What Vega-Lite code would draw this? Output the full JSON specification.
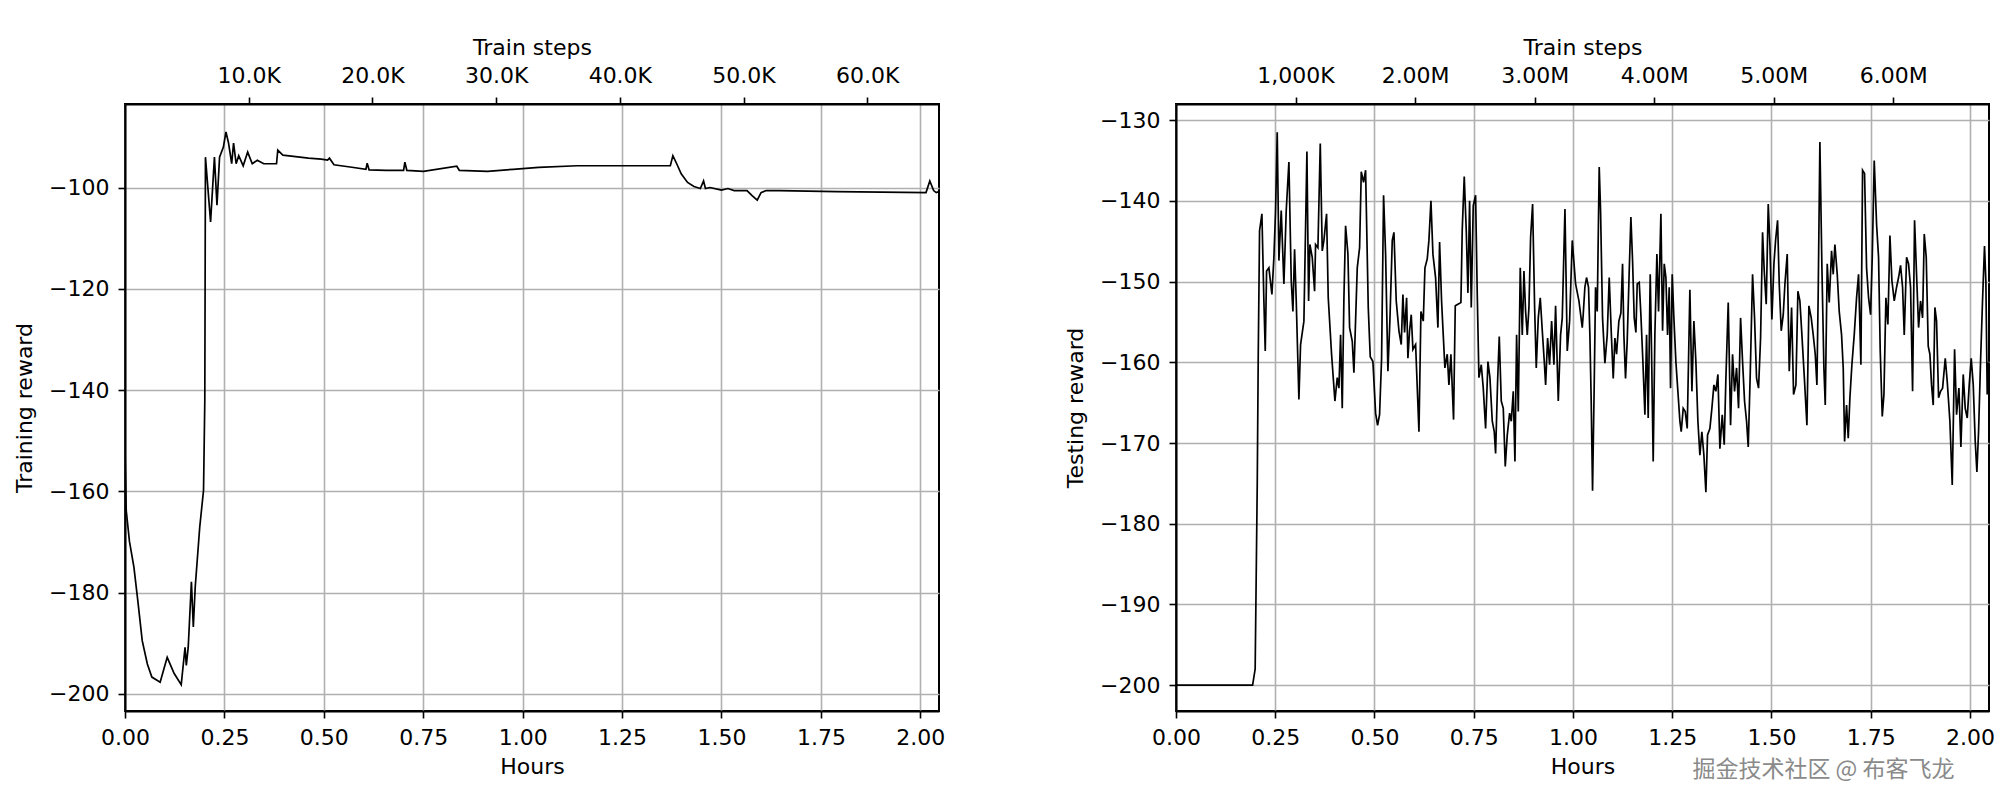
{
  "$schema": "https://vega.github.io/schema/vega-lite/v6.json",
  "autosize": {"type": "pad"},
  "padding": {"left": 12, "top": 35, "right": 5, "bottom": 5},
  "background": "white",
  "bounds": "flush",
  "spacing": 237,
  "title": {"text": "掘金技术社区 @ 布客飞龙", "orient": "bottom", "anchor": "end", "font": "Noto Sans CJK SC", "fontSize": 23, "fontWeight": "normal", "color": "#8a8a8a", "offset": -19, "dx": -41},
  "datasets": {
    "train": [
      {"h": 0, "r": -151.9}, {"h": 0.0031, "r": -163.8}, {"h": 0.0112, "r": -169.9}, {"h": 0.0224, "r": -175}, {"h": 0.0322, "r": -181.6},
      {"h": 0.0433, "r": -189.5}, {"h": 0.0562, "r": -194.1}, {"h": 0.0675, "r": -196.7}, {"h": 0.0884, "r": -197.7}, {"h": 0.1061, "r": -192.8},
      {"h": 0.1237, "r": -196}, {"h": 0.1414, "r": -198.2}, {"h": 0.151, "r": -190.8}, {"h": 0.1542, "r": -194.4}, {"h": 0.159, "r": -190.8},
      {"h": 0.167, "r": -177.9}, {"h": 0.1718, "r": -186.8}, {"h": 0.1766, "r": -178.9}, {"h": 0.1879, "r": -167.1}, {"h": 0.1975, "r": -159.8},
      {"h": 0.2007, "r": -142}, {"h": 0.2023, "r": -94}, {"h": 0.2152, "r": -106.8}, {"h": 0.2249, "r": -94}, {"h": 0.2313, "r": -103.5},
      {"h": 0.2378, "r": -94}, {"h": 0.2474, "r": -92}, {"h": 0.2539, "r": -89}, {"h": 0.2603, "r": -91.2}, {"h": 0.2683, "r": -95.3},
      {"h": 0.273, "r": -91.2}, {"h": 0.2795, "r": -95.3}, {"h": 0.286, "r": -93.7}, {"h": 0.2972, "r": -95.7}, {"h": 0.3085, "r": -93},
      {"h": 0.32, "r": -95.3}, {"h": 0.3327, "r": -94.6}, {"h": 0.3488, "r": -95.3}, {"h": 0.381, "r": -95.3}, {"h": 0.3842, "r": -92.6},
      {"h": 0.397, "r": -93.6}, {"h": 0.4291, "r": -93.9}, {"h": 0.4612, "r": -94.2}, {"h": 0.4934, "r": -94.4}, {"h": 0.5094, "r": -94.6},
      {"h": 0.5142, "r": -94.2}, {"h": 0.5255, "r": -95.5}, {"h": 0.5705, "r": -96}, {"h": 0.6058, "r": -96.4}, {"h": 0.609, "r": -95.2},
      {"h": 0.6138, "r": -96.5}, {"h": 0.6572, "r": -96.6}, {"h": 0.7006, "r": -96.6}, {"h": 0.7038, "r": -95}, {"h": 0.7087, "r": -96.6},
      {"h": 0.7507, "r": -96.8}, {"h": 0.8343, "r": -95.8}, {"h": 0.8407, "r": -96.6}, {"h": 0.9118, "r": -96.8}, {"h": 0.9761, "r": -96.4},
      {"h": 1.0404, "r": -96}, {"h": 1.1368, "r": -95.7}, {"h": 1.2332, "r": -95.7}, {"h": 1.3714, "r": -95.7}, {"h": 1.3778, "r": -93.7},
      {"h": 1.3874, "r": -95.3}, {"h": 1.3987, "r": -97.3}, {"h": 1.4147, "r": -99}, {"h": 1.4308, "r": -99.8}, {"h": 1.4469, "r": -100.2},
      {"h": 1.4549, "r": -98.7}, {"h": 1.4597, "r": -100.2}, {"h": 1.471, "r": -100}, {"h": 1.4999, "r": -100.5}, {"h": 1.516, "r": -100.2},
      {"h": 1.532, "r": -100.6}, {"h": 1.5642, "r": -100.6}, {"h": 1.577, "r": -101.6}, {"h": 1.5899, "r": -102.5}, {"h": 1.5995, "r": -101},
      {"h": 1.6124, "r": -100.6}, {"h": 1.6446, "r": -100.6}, {"h": 1.7893, "r": -100.8}, {"h": 2.0143, "r": -101}, {"h": 2.0239, "r": -98.7},
      {"h": 2.0335, "r": -100.6}, {"h": 2.04, "r": -101}, {"h": 2.0467, "r": -100.8}
    ],
    "test": [
      {"h": 0, "r": -200}, {"h": 0.193, "r": -200}, {"h": 0.1994, "r": -198}, {"h": 0.2047, "r": -175}, {"h": 0.2072, "r": -159},
      {"h": 0.2105, "r": -143.7}, {"h": 0.2164, "r": -141.6}, {"h": 0.2214, "r": -152.4}, {"h": 0.2248, "r": -158.6}, {"h": 0.2282, "r": -148.7},
      {"h": 0.234, "r": -148.3}, {"h": 0.2416, "r": -151.6}, {"h": 0.2466, "r": -147}, {"h": 0.2508, "r": -141.2}, {"h": 0.255, "r": -131.5},
      {"h": 0.2592, "r": -147.4}, {"h": 0.2651, "r": -141.2}, {"h": 0.2718, "r": -150.3}, {"h": 0.2777, "r": -141.2}, {"h": 0.2844, "r": -135.2},
      {"h": 0.2903, "r": -149.9}, {"h": 0.2945, "r": -153.7}, {"h": 0.2987, "r": -146}, {"h": 0.3029, "r": -152.4}, {"h": 0.3096, "r": -164.6},
      {"h": 0.3138, "r": -157.8}, {"h": 0.3222, "r": -154.9}, {"h": 0.3298, "r": -133.9}, {"h": 0.334, "r": -152.4}, {"h": 0.3373, "r": -145.4},
      {"h": 0.3432, "r": -147}, {"h": 0.3491, "r": -151.2}, {"h": 0.3516, "r": -145.4}, {"h": 0.3575, "r": -145.8}, {"h": 0.3634, "r": -132.9},
      {"h": 0.3684, "r": -146.2}, {"h": 0.3726, "r": -144.9}, {"h": 0.3793, "r": -141.6}, {"h": 0.3835, "r": -152}, {"h": 0.3919, "r": -159},
      {"h": 0.4003, "r": -164.8}, {"h": 0.4062, "r": -161.9}, {"h": 0.4104, "r": -163.2}, {"h": 0.4146, "r": -156.6}, {"h": 0.4188, "r": -165.7},
      {"h": 0.423, "r": -152}, {"h": 0.4272, "r": -143.1}, {"h": 0.4331, "r": -146.6}, {"h": 0.4373, "r": -155.7}, {"h": 0.444, "r": -157.4},
      {"h": 0.4482, "r": -161.3}, {"h": 0.4566, "r": -148.3}, {"h": 0.4625, "r": -145.8}, {"h": 0.4667, "r": -136.4}, {"h": 0.4725, "r": -137.7},
      {"h": 0.4776, "r": -136.2}, {"h": 0.4843, "r": -153.2}, {"h": 0.4893, "r": -159.3}, {"h": 0.496, "r": -159.9}, {"h": 0.5028, "r": -166.3},
      {"h": 0.5078, "r": -167.8}, {"h": 0.5128, "r": -166.5}, {"h": 0.5179, "r": -159.5}, {"h": 0.5229, "r": -139.3}, {"h": 0.528, "r": -146.6},
      {"h": 0.5338, "r": -161.1}, {"h": 0.5389, "r": -154.7}, {"h": 0.5448, "r": -144.9}, {"h": 0.549, "r": -143.9}, {"h": 0.5548, "r": -152.4},
      {"h": 0.5616, "r": -156.1}, {"h": 0.5674, "r": -157.8}, {"h": 0.5716, "r": -151.6}, {"h": 0.5758, "r": -156.3}, {"h": 0.5809, "r": -152},
      {"h": 0.5842, "r": -159.5}, {"h": 0.5884, "r": -156.1}, {"h": 0.5926, "r": -154.1}, {"h": 0.5968, "r": -158.4}, {"h": 0.6036, "r": -157.8},
      {"h": 0.612, "r": -168.6}, {"h": 0.617, "r": -153.7}, {"h": 0.6229, "r": -154.9}, {"h": 0.6271, "r": -148.3}, {"h": 0.6329, "r": -147.2},
      {"h": 0.6371, "r": -144.9}, {"h": 0.6422, "r": -140}, {"h": 0.6472, "r": -146.6}, {"h": 0.6539, "r": -149.5}, {"h": 0.6598, "r": -155.7},
      {"h": 0.664, "r": -145.1}, {"h": 0.669, "r": -152.4}, {"h": 0.6732, "r": -156.6}, {"h": 0.6774, "r": -160.7}, {"h": 0.6833, "r": -159},
      {"h": 0.6875, "r": -162.8}, {"h": 0.6925, "r": -159}, {"h": 0.6992, "r": -167.1}, {"h": 0.7035, "r": -153}, {"h": 0.7102, "r": -152.8},
      {"h": 0.7177, "r": -152.6}, {"h": 0.7211, "r": -143.5}, {"h": 0.7261, "r": -137}, {"h": 0.7312, "r": -143.7}, {"h": 0.7354, "r": -151.4},
      {"h": 0.7396, "r": -140}, {"h": 0.7438, "r": -153.2}, {"h": 0.7488, "r": -140.6}, {"h": 0.7547, "r": -139.3}, {"h": 0.7589, "r": -151.6},
      {"h": 0.7631, "r": -161.9}, {"h": 0.769, "r": -160.3}, {"h": 0.774, "r": -163.2}, {"h": 0.7799, "r": -168.2}, {"h": 0.7858, "r": -159.9},
      {"h": 0.7908, "r": -161.9}, {"h": 0.7967, "r": -167.3}, {"h": 0.8017, "r": -168.6}, {"h": 0.8051, "r": -171.3}, {"h": 0.8101, "r": -162.4},
      {"h": 0.8143, "r": -156.8}, {"h": 0.8194, "r": -164.8}, {"h": 0.8244, "r": -165.7}, {"h": 0.8294, "r": -172.9}, {"h": 0.8345, "r": -169},
      {"h": 0.8404, "r": -166.3}, {"h": 0.8446, "r": -167.3}, {"h": 0.8496, "r": -163.6}, {"h": 0.8538, "r": -172.3}, {"h": 0.858, "r": -156.6},
      {"h": 0.8622, "r": -166.1}, {"h": 0.8672, "r": -148.3}, {"h": 0.8723, "r": -156.6}, {"h": 0.8765, "r": -148.7}, {"h": 0.8807, "r": -153.7},
      {"h": 0.8849, "r": -156.6}, {"h": 0.8891, "r": -153.2}, {"h": 0.8933, "r": -144.5}, {"h": 0.8983, "r": -140.4}, {"h": 0.9034, "r": -153.2},
      {"h": 0.9075, "r": -160.7}, {"h": 0.9126, "r": -154.5}, {"h": 0.9176, "r": -152}, {"h": 0.9227, "r": -156.1}, {"h": 0.9277, "r": -159.9},
      {"h": 0.9311, "r": -162.8}, {"h": 0.9361, "r": -157}, {"h": 0.9411, "r": -160.3}, {"h": 0.9462, "r": -154.9}, {"h": 0.952, "r": -160.3},
      {"h": 0.9562, "r": -153}, {"h": 0.963, "r": -164.8}, {"h": 0.9688, "r": -156.6}, {"h": 0.973, "r": -154.5}, {"h": 0.9798, "r": -141},
      {"h": 0.9856, "r": -158.6}, {"h": 0.9915, "r": -154.9}, {"h": 0.9982, "r": -144.9}, {"h": 1.0066, "r": -150.3}, {"h": 1.015, "r": -152.4},
      {"h": 1.0234, "r": -155.7}, {"h": 1.0258, "r": -154.1}, {"h": 1.03, "r": -150.7}, {"h": 1.0342, "r": -149.5}, {"h": 1.0392, "r": -150.7},
      {"h": 1.0426, "r": -156.6}, {"h": 1.0459, "r": -164.8}, {"h": 1.0493, "r": -175.9}, {"h": 1.0535, "r": -162.8}, {"h": 1.0569, "r": -150.7},
      {"h": 1.0611, "r": -153.7}, {"h": 1.0661, "r": -135.8}, {"h": 1.0695, "r": -141.2}, {"h": 1.0745, "r": -154.5}, {"h": 1.0804, "r": -160.1},
      {"h": 1.0863, "r": -156.6}, {"h": 1.0913, "r": -149.5}, {"h": 1.0963, "r": -156.1}, {"h": 1.1014, "r": -162}, {"h": 1.1056, "r": -157},
      {"h": 1.1098, "r": -159}, {"h": 1.1156, "r": -154.9}, {"h": 1.1207, "r": -153.9}, {"h": 1.1249, "r": -147.8}, {"h": 1.1282, "r": -156.6},
      {"h": 1.1324, "r": -162}, {"h": 1.1366, "r": -157.4}, {"h": 1.1417, "r": -148.7}, {"h": 1.1459, "r": -142}, {"h": 1.1501, "r": -147.4},
      {"h": 1.1543, "r": -154.5}, {"h": 1.1585, "r": -156.3}, {"h": 1.1618, "r": -150.3}, {"h": 1.1669, "r": -150.1}, {"h": 1.1711, "r": -154.1},
      {"h": 1.1761, "r": -159.9}, {"h": 1.1812, "r": -166.5}, {"h": 1.1854, "r": -156.6}, {"h": 1.1895, "r": -166.9}, {"h": 1.1946, "r": -149.1},
      {"h": 1.1979, "r": -158.6}, {"h": 1.2021, "r": -172.3}, {"h": 1.2063, "r": -156.6}, {"h": 1.2114, "r": -146.6}, {"h": 1.2156, "r": -153.7},
      {"h": 1.2215, "r": -141.6}, {"h": 1.2257, "r": -156.1}, {"h": 1.2299, "r": -147.8}, {"h": 1.2341, "r": -149.5}, {"h": 1.2383, "r": -156.6},
      {"h": 1.2425, "r": -150.7}, {"h": 1.2458, "r": -163.2}, {"h": 1.25, "r": -149.1}, {"h": 1.2542, "r": -154.5}, {"h": 1.2592, "r": -159.9},
      {"h": 1.2643, "r": -163.6}, {"h": 1.2693, "r": -167.3}, {"h": 1.2727, "r": -168.6}, {"h": 1.2777, "r": -165.7}, {"h": 1.2828, "r": -166.1},
      {"h": 1.2878, "r": -168.2}, {"h": 1.2945, "r": -151}, {"h": 1.2996, "r": -163.6}, {"h": 1.3046, "r": -154.9}, {"h": 1.3096, "r": -159.9},
      {"h": 1.3147, "r": -167.3}, {"h": 1.3197, "r": -171.5}, {"h": 1.3247, "r": -168.6}, {"h": 1.3298, "r": -171.5}, {"h": 1.3348, "r": -176.1},
      {"h": 1.339, "r": -169}, {"h": 1.3449, "r": -168.2}, {"h": 1.3499, "r": -165.7}, {"h": 1.355, "r": -162.8}, {"h": 1.36, "r": -163.6},
      {"h": 1.3651, "r": -161.5}, {"h": 1.3701, "r": -170.7}, {"h": 1.376, "r": -166.5}, {"h": 1.381, "r": -170.2}, {"h": 1.3852, "r": -162},
      {"h": 1.3911, "r": -152.6}, {"h": 1.397, "r": -167.8}, {"h": 1.402, "r": -159}, {"h": 1.407, "r": -163.6}, {"h": 1.4121, "r": -160.7},
      {"h": 1.4171, "r": -165.7}, {"h": 1.4222, "r": -154.5}, {"h": 1.4272, "r": -159.9}, {"h": 1.4322, "r": -164.8}, {"h": 1.4373, "r": -167.3},
      {"h": 1.4415, "r": -170.5}, {"h": 1.4465, "r": -161.5}, {"h": 1.4524, "r": -149.1}, {"h": 1.4574, "r": -154.5}, {"h": 1.4625, "r": -162},
      {"h": 1.4675, "r": -163.2}, {"h": 1.4726, "r": -157}, {"h": 1.4776, "r": -143.9}, {"h": 1.4818, "r": -148.7}, {"h": 1.4868, "r": -152.8},
      {"h": 1.4919, "r": -140.4}, {"h": 1.4961, "r": -145.4}, {"h": 1.5011, "r": -154.7}, {"h": 1.5062, "r": -147.8}, {"h": 1.5104, "r": -144.9},
      {"h": 1.5154, "r": -142.4}, {"h": 1.5196, "r": -150.3}, {"h": 1.5246, "r": -156.1}, {"h": 1.5297, "r": -154.1}, {"h": 1.5339, "r": -150.3},
      {"h": 1.5397, "r": -146.6}, {"h": 1.5448, "r": -161.1}, {"h": 1.5507, "r": -153.2}, {"h": 1.5557, "r": -164}, {"h": 1.5616, "r": -162.8},
      {"h": 1.5666, "r": -151.2}, {"h": 1.5716, "r": -152.4}, {"h": 1.5767, "r": -156.6}, {"h": 1.5834, "r": -162.4}, {"h": 1.5893, "r": -167.8},
      {"h": 1.5943, "r": -153}, {"h": 1.6002, "r": -154.5}, {"h": 1.6052, "r": -156.6}, {"h": 1.6103, "r": -159}, {"h": 1.6145, "r": -162.8},
      {"h": 1.6178, "r": -151.2}, {"h": 1.622, "r": -132.7}, {"h": 1.6271, "r": -148.3}, {"h": 1.6321, "r": -160.7}, {"h": 1.6355, "r": -165.3},
      {"h": 1.6405, "r": -147.8}, {"h": 1.6455, "r": -152.6}, {"h": 1.6514, "r": -146.2}, {"h": 1.6556, "r": -149.1}, {"h": 1.6598, "r": -145.4},
      {"h": 1.6657, "r": -149.1}, {"h": 1.6707, "r": -153.7}, {"h": 1.6766, "r": -156.6}, {"h": 1.6808, "r": -160.7}, {"h": 1.6842, "r": -169.8},
      {"h": 1.6892, "r": -165.3}, {"h": 1.6934, "r": -169.4}, {"h": 1.6976, "r": -164.4}, {"h": 1.7026, "r": -160.3}, {"h": 1.7085, "r": -156.6},
      {"h": 1.7144, "r": -152}, {"h": 1.7194, "r": -149.1}, {"h": 1.7253, "r": -160.3}, {"h": 1.7295, "r": -136.2}, {"h": 1.7345, "r": -136.6},
      {"h": 1.7396, "r": -148.3}, {"h": 1.7446, "r": -152}, {"h": 1.7497, "r": -154.1}, {"h": 1.7539, "r": -147}, {"h": 1.7589, "r": -135},
      {"h": 1.7648, "r": -142.9}, {"h": 1.7698, "r": -147}, {"h": 1.774, "r": -158.6}, {"h": 1.7791, "r": -166.7}, {"h": 1.7833, "r": -164},
      {"h": 1.7883, "r": -152}, {"h": 1.7933, "r": -155.3}, {"h": 1.7984, "r": -144.3}, {"h": 1.8034, "r": -149.9}, {"h": 1.8093, "r": -152.4},
      {"h": 1.8152, "r": -150.7}, {"h": 1.8202, "r": -149.5}, {"h": 1.8252, "r": -148}, {"h": 1.8303, "r": -150.7}, {"h": 1.8345, "r": -156.6},
      {"h": 1.8404, "r": -147}, {"h": 1.8454, "r": -147.8}, {"h": 1.8504, "r": -150.7}, {"h": 1.8555, "r": -163.6}, {"h": 1.8605, "r": -142.4},
      {"h": 1.8655, "r": -149.1}, {"h": 1.8706, "r": -155.7}, {"h": 1.8756, "r": -152.4}, {"h": 1.8807, "r": -154.5}, {"h": 1.8849, "r": -144.1},
      {"h": 1.8899, "r": -147}, {"h": 1.8949, "r": -158}, {"h": 1.8991, "r": -159}, {"h": 1.9033, "r": -162.8}, {"h": 1.9075, "r": -165.3},
      {"h": 1.9117, "r": -153.2}, {"h": 1.9159, "r": -154.9}, {"h": 1.921, "r": -164.4}, {"h": 1.926, "r": -163.6}, {"h": 1.9311, "r": -163.2},
      {"h": 1.9378, "r": -159.5}, {"h": 1.9428, "r": -162.4}, {"h": 1.9495, "r": -167.3}, {"h": 1.9554, "r": -175.2}, {"h": 1.9613, "r": -158.4},
      {"h": 1.9663, "r": -166.5}, {"h": 1.9722, "r": -163.2}, {"h": 1.9772, "r": -170.5}, {"h": 1.9831, "r": -161.5}, {"h": 1.9881, "r": -165.7},
      {"h": 1.9932, "r": -166.9}, {"h": 1.9982, "r": -162.8}, {"h": 2.0032, "r": -159.5}, {"h": 2.0083, "r": -162.8}, {"h": 2.0133, "r": -169.8},
      {"h": 2.0175, "r": -173.6}, {"h": 2.0217, "r": -168.6}, {"h": 2.0267, "r": -159.9}, {"h": 2.0317, "r": -152.4}, {"h": 2.0367, "r": -145.6},
      {"h": 2.0401, "r": -149.9}, {"h": 2.0435, "r": -164}, {"h": 2.0469, "r": -160}
    ],
    "trainSteps": [{"s": 0}, {"s": 65800}],
    "testSteps": [{"s": 0}, {"s": 6800000}]
  },
  "config": {
    "font": "DejaVu Sans",
    "view": {"stroke": "black", "strokeWidth": 2},
    "axis": {
      "labelFont": "DejaVu Sans", "labelFontSize": 22, "labelColor": "black",
      "titleFont": "DejaVu Sans", "titleFontSize": 22, "titleFontWeight": "normal", "titleColor": "black",
      "domainColor": "black", "domainWidth": 2,
      "tickColor": "black", "tickWidth": 1.6, "tickSize": 7,
      "gridColor": "#b0b0b0", "gridWidth": 1.6, "gridOpacity": 1,
      "labelPadding": 9
    },
    "axisBottom": {"titlePadding": 8},
    "axisTop": {"labelPadding": 9.5, "titlePadding": 5},
    "axisLeft": {"titlePadding": 12}
  },
  "hconcat": [
    {
      "width": 814,
      "height": 607,
      "layer": [
        {
          "data": {"name": "train"},
          "mark": {"type": "line", "color": "black", "strokeWidth": 1.7, "clip": true},
          "encoding": {
            "x": {"field": "h", "type": "quantitative", "scale": {"domain": [0, 2.047], "nice": false, "zero": false},
                  "axis": {"title": "Hours", "orient": "bottom", "values": [0, 0.25, 0.5, 0.75, 1, 1.25, 1.5, 1.75, 2], "format": ".2f", "grid": true, "labelFlush": false}},
            "y": {"field": "r", "type": "quantitative", "scale": {"domain": [-203.4, -83.5], "nice": false, "zero": false},
                  "axis": {"title": "Training reward", "values": [-200, -180, -160, -140, -120, -100], "grid": true}}
          }
        },
        {
          "data": {"name": "trainSteps"},
          "mark": {"type": "point", "opacity": 0},
          "encoding": {
            "x": {"field": "s", "type": "quantitative", "scale": {"domain": [0, 65800], "nice": false, "zero": false},
                  "axis": {"title": "Train steps", "orient": "top", "grid": false, "values": [10000, 20000, 30000, 40000, 50000, 60000],
                           "labelExpr": "format(datum.value / 1000, '.1f') + 'K'", "labelFlush": false}}
          }
        }
      ],
      "resolve": {"scale": {"x": "independent"}, "axis": {"x": "independent"}}
    },
    {
      "width": 813,
      "height": 607,
      "layer": [
        {
          "data": {"name": "test"},
          "mark": {"type": "line", "color": "black", "strokeWidth": 1.7, "clip": true},
          "encoding": {
            "x": {"field": "h", "type": "quantitative", "scale": {"domain": [0, 2.048], "nice": false, "zero": false},
                  "axis": {"title": "Hours", "orient": "bottom", "values": [0, 0.25, 0.5, 0.75, 1, 1.25, 1.5, 1.75, 2], "format": ".2f", "grid": true, "labelFlush": false}},
            "y": {"field": "r", "type": "quantitative", "scale": {"domain": [-203.2, -128.0], "nice": false, "zero": false},
                  "axis": {"title": "Testing reward", "values": [-200, -190, -180, -170, -160, -150, -140, -130], "grid": true}}
          }
        },
        {
          "data": {"name": "testSteps"},
          "mark": {"type": "point", "opacity": 0},
          "encoding": {
            "x": {"field": "s", "type": "quantitative", "scale": {"domain": [0, 6800000], "nice": false, "zero": false},
                  "axis": {"title": "Train steps", "orient": "top", "grid": false, "values": [1000000, 2000000, 3000000, 4000000, 5000000, 6000000],
                           "labelExpr": "datum.value == 1000000 ? '1,000K' : format(datum.value / 1000000, '.2f') + 'M'", "labelFlush": false}}
          }
        }
      ],
      "resolve": {"scale": {"x": "independent"}, "axis": {"x": "independent"}}
    }
  ]
}
